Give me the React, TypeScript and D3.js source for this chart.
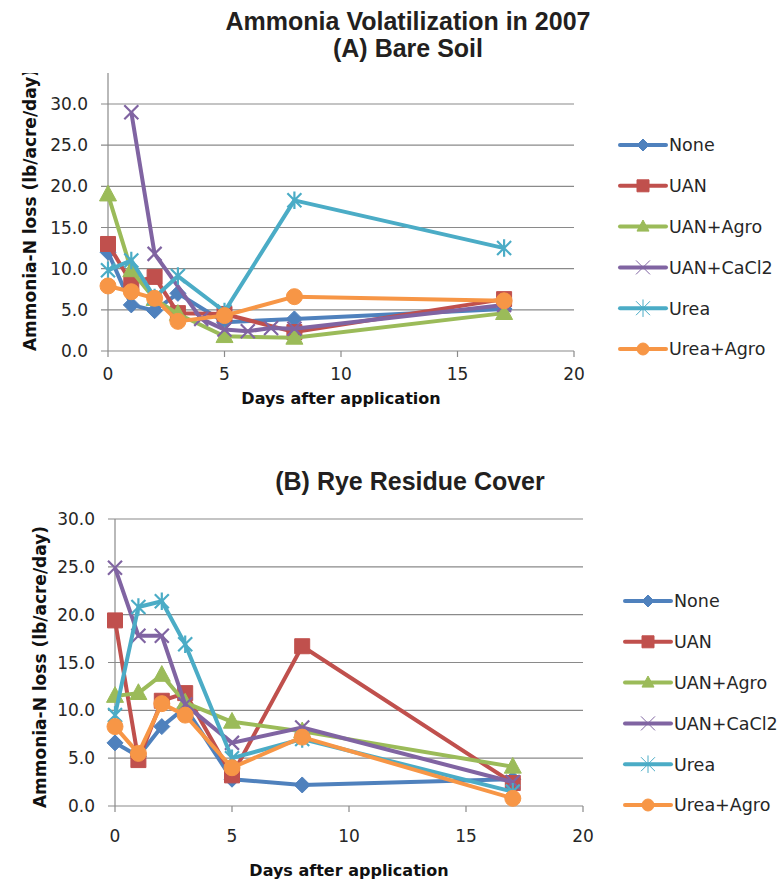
import React from 'react';
import * as d3 from 'd3';

// ---------- data ----------
const seriesNames = ['None', 'UAN', 'UAN+Agro', 'UAN+CaCl2', 'Urea', 'Urea+Agro'];
const seriesColors = ['#4F81BD', '#C0504D', '#9BBB59', '#8064A2', '#4BACC6', '#F79646'];
const seriesMarkers = ['diamond', 'square', 'triangle', 'x', 'star', 'circle'];

const daysStd = [0, 1, 2, 3, 5, 8, 17];
const daysBareCaCl2 = [1, 2, 4, 5, 6, 7, 8, 17];

const bareNone = [12.0, 5.6, 4.9, 7.0, 3.5, 3.9, 5.1];
const bareUAN = [13.0, 8.3, 9.0, 4.6, 4.5, 2.3, 6.3];
const bareUANAgro = [19.0, 9.8, 6.3, 4.5, 1.8, 1.6, 4.6];
const bareUANCaCl2 = [29.0, 11.8, 3.9, 2.6, 2.4, 2.8, 2.7, 5.6];
const bareUrea = [9.8, 11.0, 6.5, 9.1, 4.8, 18.3, 12.5];
const bareUreaAgro = [7.9, 7.2, 6.4, 3.6, 4.3, 6.6, 6.1];

const ryeNone = [6.6, 5.2, 8.3, 10.3, 2.8, 2.2, 2.8];
const ryeUAN = [19.4, 4.8, 11.0, 11.8, 3.2, 16.7, 2.4];
const ryeUANAgro = [11.5, 11.8, 13.7, 10.8, 8.8, 7.8, 4.1];
const ryeUANCaCl2 = [24.9, 17.8, 17.8, 10.6, 6.6, 8.2, 2.5];
const ryeUrea = [9.5, 20.8, 21.4, 16.9, 5.0, 7.0, 1.5];
const ryeUreaAgro = [8.3, 5.5, 10.7, 9.5, 4.0, 7.2, 0.8];

const yTickValues = [0, 5, 10, 15, 20, 25, 30];
const xTickValues = [0, 5, 10, 15, 20];

const mainTitle = 'Ammonia Volatilization in 2007';
const titleA = '(A) Bare Soil';
const titleB = '(B) Rye Residue Cover';
const xTitle = 'Days after application';
const yTitle = 'Ammonia-N loss (lb/acre/day)';

const bareDays = [daysStd, daysStd, daysStd, daysBareCaCl2, daysStd, daysStd];
const bareValues = [bareNone, bareUAN, bareUANAgro, bareUANCaCl2, bareUrea, bareUreaAgro];
const ryeDays = [daysStd, daysStd, daysStd, daysStd, daysStd, daysStd];
const ryeValues = [ryeNone, ryeUAN, ryeUANAgro, ryeUANCaCl2, ryeUrea, ryeUreaAgro];

// ---------- helpers ----------
const SMALL_FONT = '"DejaVu Sans", Verdana, sans-serif';
const TITLE_FONT = '"Liberation Sans", Arial, sans-serif';
const GRID = '#8a8a8a';
const TEXT = '#262626';

function Marker({ type, color, x, y, s, legend }: any) {
  if (type === 'circle') {
    return <circle cx={x} cy={y} r={s} fill={color} stroke={color} strokeWidth={1} />;
  }
  if (type === 'diamond') {
    const d = `M${x},${y - s}L${x + s},${y}L${x},${y + s}L${x - s},${y}Z`;
    return <path d={d} fill={color} stroke={color} strokeWidth={1} />;
  }
  if (type === 'square') {
    const d = `M${x - s},${y - s}h${2 * s}v${2 * s}h${-2 * s}Z`;
    return <path d={d} fill={color} stroke={color} strokeWidth={1} />;
  }
  if (type === 'triangle') {
    const d = `M${x},${y - s * 1.1}L${x + s},${y + s * 0.75}L${x - s},${y + s * 0.75}Z`;
    return <path d={d} fill={color} stroke={color} strokeWidth={1} />;
  }
  const sw = legend ? 1 : 2.2;
  if (type === 'x') {
    const d = `M${x - s},${y - s}L${x + s},${y + s}M${x - s},${y + s}L${x + s},${y - s}`;
    return <path d={d} fill="none" stroke={color} strokeWidth={sw} />;
  }
  // star (asterisk)
  const d = `M${x - s},${y - s}L${x + s},${y + s}M${x - s},${y + s}L${x + s},${y - s}M${x},${y - s * 1.25}L${x},${y + s * 1.25}`;
  return <path d={d} fill="none" stroke={color} strokeWidth={sw} />;
}

const plotMarkerSize: any = { diamond: 8, square: 7.5, triangle: 8.5, x: 7, star: 7, circle: 8 };
const legendMarkerSize: any = { diamond: 6, square: 6, triangle: 6, x: 7, star: 7, circle: 6 };

function Panel({ cfg, days, values }: any) {
  const x = d3.scaleLinear().domain([0, 20]).range([cfg.x0, cfg.x1]);
  const y = d3.scaleLinear().domain([0, cfg.yMax]).range([cfg.y0, cfg.yTopScale]);
  const line = d3
    .line<[number, number]>()
    .x((d) => x(d[0]))
    .y((d) => y(d[1]));
  const clipId = `clip-${cfg.id}`;
  return (
    <g>
      <defs>
        <clipPath id={clipId}>
          <rect x={0} y={cfg.labelClipTop} width={784} height={882} />
        </clipPath>
      </defs>
      {yTickValues.map((t) => (
        <line key={'g' + t} x1={cfg.x0 - 7} x2={cfg.x1} y1={y(t)} y2={y(t)} stroke={GRID} strokeWidth={1.2} />
      ))}
      <line x1={cfg.x0} x2={cfg.x0} y1={cfg.axisTop} y2={cfg.y0} stroke={GRID} strokeWidth={1.2} />
      {xTickValues.map((t) => (
        <line key={'xt' + t} x1={x(t)} x2={x(t)} y1={cfg.y0} y2={cfg.y0 + 6} stroke={GRID} strokeWidth={1.2} />
      ))}
      {yTickValues.map((t) => (
        <text key={'yl' + t} x={cfg.x0 - 20} y={y(t)} dy="0.36em" textAnchor="end" fontFamily={SMALL_FONT} fontSize={17} fill={TEXT}>
          {d3.format('.1f')(t)}
        </text>
      ))}
      {xTickValues.map((t) => (
        <text key={'xl' + t} x={x(t)} y={cfg.xTickBase} textAnchor="middle" fontFamily={SMALL_FONT} fontSize={17} fill={TEXT}>
          {t}
        </text>
      ))}
      <text x={(cfg.x0 + cfg.x1) / 2} y={cfg.xTitleBase} textAnchor="middle" fontFamily={SMALL_FONT} fontWeight="bold" fontSize={16} fill="#111">
        {xTitle}
      </text>
      <g clipPath={`url(#${clipId})`}>
        <text
          transform={`translate(${cfg.yTitleX},${cfg.yTitleY}) rotate(-90)`}
          textAnchor="middle"
          dy="0.36em"
          fontFamily={SMALL_FONT}
          fontWeight="bold"
          fontSize={17}
          fill="#111"
        >
          {yTitle}
        </text>
      </g>
      {seriesNames.map((name, i) => {
        const pts: [number, number][] = days[i].map((d: number, j: number) => [d, values[i][j]]);
        return (
          <g key={name}>
            <path d={line(pts) || ''} fill="none" stroke={seriesColors[i]} strokeWidth={4} strokeLinejoin="round" />
            {pts.map((p, j) => (
              <Marker key={j} type={seriesMarkers[i]} color={seriesColors[i]} x={x(p[0])} y={y(p[1])} s={plotMarkerSize[seriesMarkers[i]]} />
            ))}
          </g>
        );
      })}
      {seriesNames.map((name, i) => {
        const ly = cfg.legendY0 + i * cfg.legendStep;
        const mx = (cfg.legendX0 + cfg.legendX1) / 2;
        return (
          <g key={'lg' + name}>
            <line x1={cfg.legendX0} x2={cfg.legendX1} y1={ly} y2={ly} stroke={seriesColors[i]} strokeWidth={4} strokeLinecap="round" />
            <Marker type={seriesMarkers[i]} color={seriesColors[i]} x={mx} y={ly} s={legendMarkerSize[seriesMarkers[i]]} legend />
            <text x={cfg.legendX1 + 3} y={ly} dy="0.36em" fontFamily={SMALL_FONT} fontSize={17.5} fill={TEXT}>
              {name}
            </text>
          </g>
        );
      })}
    </g>
  );
}

const cfgA = {
  id: 'a',
  x0: 108,
  x1: 574,
  y0: 351,
  yMax: 35,
  yTopScale: 351 - 35 * 8.233,
  axisTop: 73,
  xTickBase: 380,
  xTitleBase: 404,
  yTitleX: 30,
  yTitleY: 210,
  labelClipTop: 73,
  legendX0: 620,
  legendX1: 666,
  legendY0: 145,
  legendStep: 40.8,
};

const cfgB = {
  id: 'b',
  x0: 115,
  x1: 583,
  y0: 806,
  yMax: 30,
  yTopScale: 519,
  axisTop: 519,
  xTickBase: 842,
  xTitleBase: 876,
  yTitleX: 40,
  yTitleY: 667,
  labelClipTop: 0,
  legendX0: 625,
  legendX1: 671,
  legendY0: 601,
  legendStep: 40.8,
};

export default function App() {
  return (
    <svg width={784} height={882} style={{ position: 'absolute', left: 0, top: 0, background: '#fff' }}>
      <rect x={0} y={0} width={784} height={882} fill="#fff" />
      <text x={408} y={30} textAnchor="middle" fontFamily={TITLE_FONT} fontWeight="bold" fontSize={25} fill="#231F20">
        {mainTitle}
      </text>
      <text x={408} y={57} textAnchor="middle" fontFamily={TITLE_FONT} fontWeight="bold" fontSize={25} fill="#231F20">
        {titleA}
      </text>
      <text x={410} y={490} textAnchor="middle" fontFamily={TITLE_FONT} fontWeight="bold" fontSize={25} fill="#231F20">
        {titleB}
      </text>
      <Panel cfg={cfgA} days={bareDays} values={bareValues} />
      <Panel cfg={cfgB} days={ryeDays} values={ryeValues} />
    </svg>
  );
}
